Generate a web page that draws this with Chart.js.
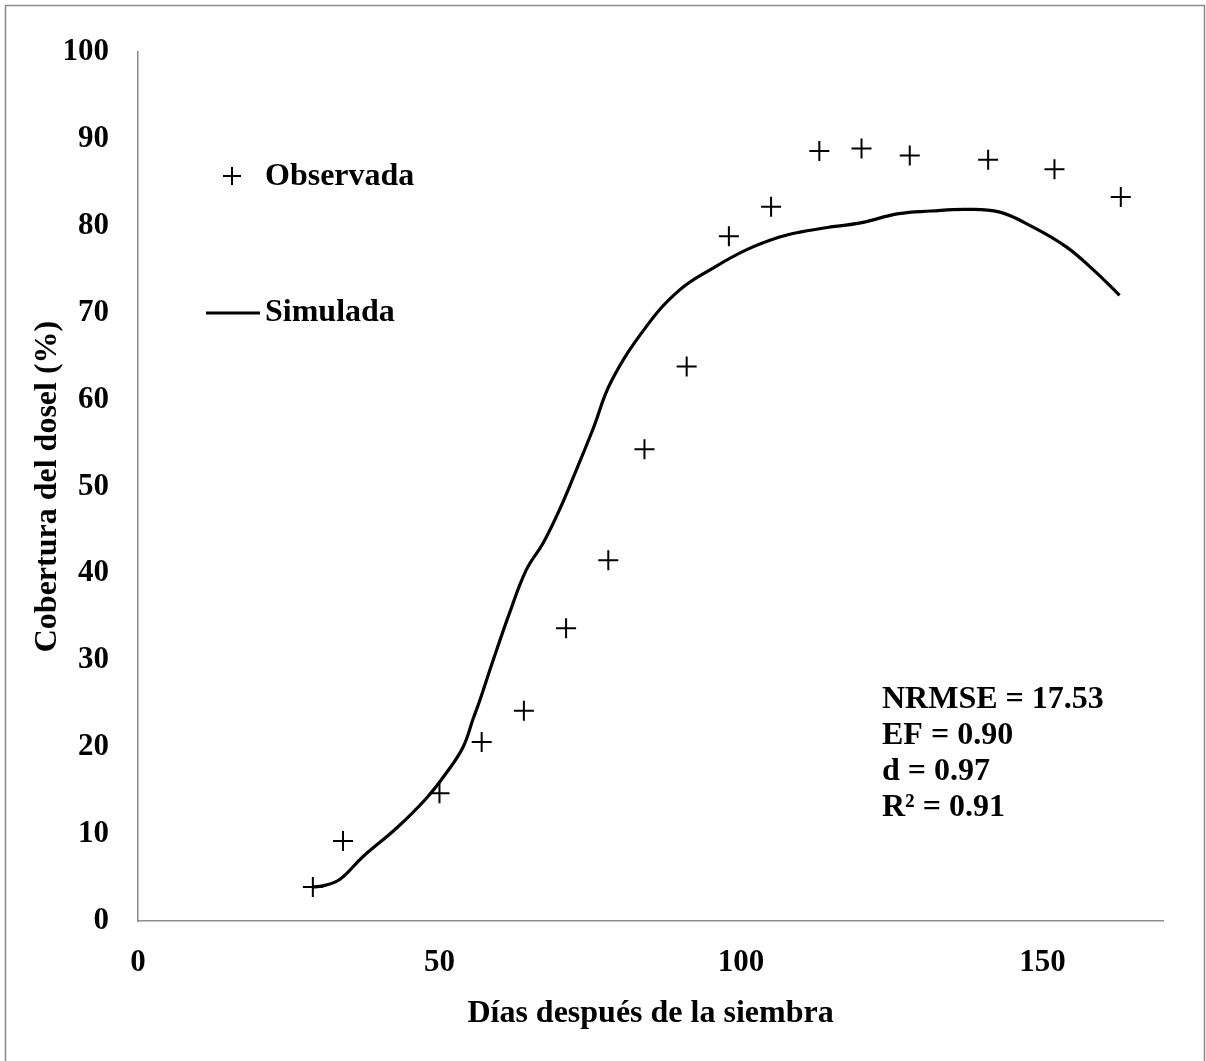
<!DOCTYPE html>
<html>
<head>
<meta charset="utf-8">
<script src="https://cdn.jsdelivr.net/npm/chart.js@4.4.1/dist/chart.umd.min.js"></script>
<style>
  html, body { margin: 0; padding: 0; background: #fff; }
  #wrap { width: 1206px; height: 1061px; }
</style>
</head>
<body>
<div id="wrap"><canvas id="coverChart" width="1206" height="1061"></canvas></div>
<script>
// observed canopy cover (+ markers)
const obsDays = [29, 34, 50, 57, 64, 71, 78, 84, 91, 98, 105, 113, 120, 128, 141, 152, 163];
const obsCover = [3.9, 9.2, 14.7, 20.6, 24.2, 33.7, 41.5, 54.3, 63.8, 78.8, 82.2, 88.6, 88.9, 88.1, 87.6, 86.5, 83.3];

// simulated canopy cover (line)
const simDays = [29, 31, 33.5, 37.3, 42.9, 47.8, 51.1, 53.9, 55.6, 56.7, 58.9, 61.6, 64.4, 67.2, 69.9, 72.7, 75.4, 78.5, 84.3, 89.8, 95.3, 100.8, 106.4, 110, 115.2, 119.6, 126.2, 131.5, 137.3, 142.8, 148.3, 153.9, 158.5, 162.8];
const simCover = [3.9, 4.1, 4.8, 7.4, 10.7, 14.1, 17.0, 20.0, 23.3, 25.4, 30.0, 35.4, 40.4, 43.5, 47.3, 51.9, 56.5, 62.1, 68.4, 72.6, 75.1, 77.2, 78.7, 79.3, 79.9, 80.3, 81.4, 81.7, 81.9, 81.6, 79.9, 77.6, 74.9, 72.0];

const xTicks = [0, 50, 100, 150];
const statLines = ['NRMSE = 17.53', 'EF = 0.90', 'd = 0.97', 'R² = 0.91'];

const FONT = '"Liberation Serif", "Times New Roman", serif';
Chart.defaults.font.family = FONT;
Chart.defaults.font.weight = 'bold';
Chart.defaults.font.size = 32;
Chart.defaults.color = '#000';

const toPoints = (xs, ys) => xs.map((x, i) => ({ x, y: ys[i] }));

// page frame + white background
const framePlugin = {
  id: 'frame',
  beforeDraw(chart) {
    const { ctx, width, height } = chart;
    ctx.save();
    ctx.fillStyle = '#fff';
    ctx.fillRect(0, 0, width, height);
    ctx.strokeStyle = '#8c8c8c';
    ctx.lineWidth = 1.5;
    ctx.strokeRect(5.5, 5.5, 1199, 1100);
    ctx.restore();
  },
};

// legend and statistics drawn inside the plot
const notesPlugin = {
  id: 'notes',
  afterDraw(chart) {
    const { ctx, chartArea } = chart;
    const left = chartArea.left;
    const top = chartArea.top;
    ctx.save();
    ctx.fillStyle = '#000';
    ctx.strokeStyle = '#000';
    ctx.font = 'bold 32px ' + FONT;
    ctx.textBaseline = 'middle';
    ctx.textAlign = 'left';

    // Observada
    const mx = left + 94, my = top + 124;
    ctx.lineWidth = 2;
    ctx.beginPath();
    ctx.moveTo(mx - 9, my); ctx.lineTo(mx + 9, my);
    ctx.moveTo(mx, my - 9); ctx.lineTo(mx, my + 9);
    ctx.stroke();
    ctx.fillText('Observada', left + 127, my + 1);

    // Simulada
    const ly = top + 261;
    ctx.lineWidth = 3;
    ctx.beginPath();
    ctx.moveTo(left + 68, ly); ctx.lineTo(left + 122, ly);
    ctx.stroke();
    ctx.fillText('Simulada', left + 127, ly);

    // statistics
    statLines.forEach((t, i) => {
      ctx.fillText(t, left + 744, top + 648 + i * 36);
    });
    ctx.restore();
  },
};

new Chart(document.getElementById('coverChart'), {
  type: 'scatter',
  data: {
    datasets: [
      {
        label: 'Observada',
        data: toPoints(obsDays, obsCover),
        pointStyle: 'cross',
        pointRadius: 10,
        pointHoverRadius: 10,
        pointBorderWidth: 2,
        borderColor: '#000',
        backgroundColor: '#000',
        showLine: false,
      },
      {
        label: 'Simulada',
        data: toPoints(simDays, simCover),
        showLine: true,
        pointRadius: 0,
        borderColor: '#000',
        borderWidth: 3.2,
        tension: 0.4,
        fill: false,
      },
    ],
  },
  options: {
    responsive: false,
    animation: false,
    devicePixelRatio: 1,
    layout: { padding: { left: 0, top: 52, right: 43, bottom: 0 } },
    plugins: {
      legend: { display: false },
      tooltip: { enabled: false },
    },
    scales: {
      x: {
        type: 'linear',
        min: 0,
        max: 170,
        afterBuildTicks: (scale) => {
          scale.ticks = xTicks.map((v) => ({ value: v }));
        },
        afterFit: (scale) => { scale.height = 140; },
        grid: { display: false, drawTicks: false },
        border: { display: true, color: '#8c8c8c', width: 1.5 },
        ticks: { padding: 23, font: { size: 31, weight: 'bold' }, color: '#000' },
        title: {
          display: true,
          text: 'Días después de la siembra',
          font: { size: 32, weight: 'bold' },
          color: '#000',
          padding: { top: 0, bottom: 28 },
        },
      },
      y: {
        min: 0,
        max: 100,
        ticks: { stepSize: 10, padding: 29, font: { size: 31, weight: 'bold' }, color: '#000' },
        afterFit: (scale) => { scale.width = 138; },
        grid: { display: false, drawTicks: false },
        border: { display: true, color: '#8c8c8c', width: 1.5 },
        title: {
          display: true,
          text: 'Cobertura del dosel (%)',
          font: { size: 32, weight: 'bold' },
          color: '#000',
          padding: { top: 29, bottom: 0 },
        },
      },
    },
  },
  plugins: [framePlugin, notesPlugin],
});
</script>
</body>
</html>
